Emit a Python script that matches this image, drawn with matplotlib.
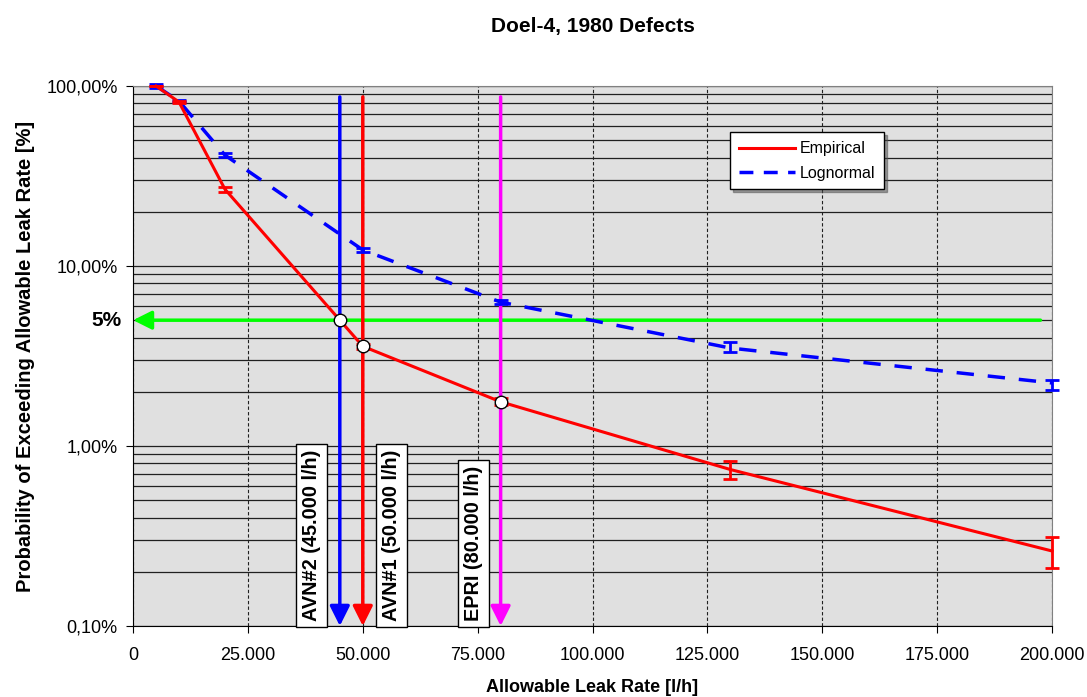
import numpy as np
import matplotlib.pyplot as plt
from matplotlib.lines import Line2D
from matplotlib.ticker import FixedLocator, FuncFormatter, LogLocator
from matplotlib.transforms import blended_transform_factory

plt.rcParams['font.family'] = ['Liberation Sans', 'DejaVu Sans']

# data
leak = [5000, 10000, 20000, 50000, 80000, 130000, 200000]
empirical = [1.0, 0.815, 0.267, 0.0358, 0.0176, 0.0074, 0.00261]
emp_lo = [0.0, 0.01, 0.008, 0.0012, 0.0008, 0.00084, 0.00051]
emp_hi = [0.0, 0.01, 0.008, 0.0012, 0.0008, 0.00086, 0.00051]
lognormal = [1.0, 0.825, 0.413, 0.1228, 0.063, 0.035, 0.0224]
logn_lo = [0.02, 0.015, 0.01, 0.003, 0.0015, 0.0017, 0.0019]
logn_hi = [0.02, 0.015, 0.01, 0.003, 0.0015, 0.0028, 0.0009]

limits = [45000, 50000, 80000]
limit_names = ['AVN#2 (45.000 l/h)', 'AVN#1 (50.000 l/h)', 'EPRI (80.000 l/h)']
limit_colors = ['#0000ff', '#ff0000', '#ff00ff']
limit_label_x = [38850, 56250, 74100]
crossing = [0.05, 0.0358, 0.0176]
target = 0.05

fig = plt.figure(figsize=(10.87, 6.97), dpi=100)
ax = fig.add_axes([0.1224, 0.1019, 0.8454, 0.7747])
ax.set_facecolor('#e0e0e0')
ax.set_yscale('log')
ax.set_xlim(0, 200000)
ax.set_ylim(0.001, 1.0)

# grid
ax.yaxis.set_major_locator(FixedLocator([0.001, 0.01, 0.1, 1.0]))
ax.yaxis.set_minor_locator(LogLocator(base=10, subs=np.arange(2, 10)))
ax.yaxis.set_major_formatter(FuncFormatter(lambda v, p: ('%.2f%%' % (v * 100)).replace('.', ',')))
ax.yaxis.set_minor_formatter(FuncFormatter(lambda v, p: ''))
ax.grid(True, axis='y', which='both', color='#202020', linewidth=0.9)
ax.set_xticks(np.arange(0, 200001, 25000))
ax.xaxis.set_major_formatter(FuncFormatter(lambda v, p: '0' if v == 0 else f'{int(v):,}'.replace(',', '.')))
ax.grid(True, axis='x', which='major', color='#202020', linewidth=0.8, linestyle=(0, (3, 2)))
ax.set_axisbelow(True)
ax.tick_params(axis='y', which='minor', length=0)
ax.tick_params(axis='both', which='major', labelsize=13, direction='out', length=5, color='black')
ax.tick_params(axis='x', pad=10)
ax.tick_params(axis='y', pad=6)

for s in ['top', 'right']:
    ax.spines[s].set_color('#808080')
for s in ['left', 'bottom']:
    ax.spines[s].set_color('black')

# green 5% arrow
ax.annotate('', xy=(0, target), xytext=(197500, target),
            arrowprops=dict(arrowstyle='-|>', color='#00ff00', lw=2.5, mutation_scale=28,
                            shrinkA=0, shrinkB=0), zorder=3)

# vertical limit arrows
for lx, col in zip(limits, limit_colors):
    ax.annotate('', xy=(lx, 0.001), xytext=(lx, 0.87),
                arrowprops=dict(arrowstyle='-|>', color=col, lw=2.5, mutation_scale=30,
                                shrinkA=0, shrinkB=0), zorder=4)

# series
ax.errorbar(leak, lognormal, yerr=[logn_lo, logn_hi], color='#0000ff', lw=2.5,
            linestyle=(0, (5, 4)), capsize=5, elinewidth=2, capthick=2, zorder=5, clip_on=False)
ax.errorbar(leak, empirical, yerr=[emp_lo, emp_hi], color='#ff0000', lw=2.2,
            capsize=5, elinewidth=2, capthick=2, zorder=6, clip_on=False)

ax.plot(limits, crossing, linestyle='none', marker='o', markersize=9,
        markerfacecolor='white', markeredgecolor='black', markeredgewidth=1, zorder=7)

# rotated labels
for lxl, name in zip(limit_label_x, limit_names):
    ax.text(lxl, 0.00106, name, rotation=90, ha='center', va='bottom', fontsize=14.3,
            fontweight='bold', zorder=8,
            bbox=dict(boxstyle='square,pad=0.3', facecolor='white', edgecolor='black', lw=1))

trans = blended_transform_factory(ax.transAxes, ax.transData)
ax.text(-0.012, target, '5%', transform=trans, ha='right', va='center',
        fontsize=15, fontweight='bold')

handles = [Line2D([], [], color='#ff0000', lw=2.2),
           Line2D([], [], color='#0000ff', lw=2.5, linestyle=(0, (4, 3)))]
leg = ax.legend(handles, ['Empirical', 'Lognormal'], loc='upper left',
                bbox_to_anchor=(0.641, 0.929), fontsize=11.5, fancybox=False, shadow=True,
                edgecolor='black', framealpha=1, handlelength=3.5, handletextpad=0.3,
                borderpad=0.55, labelspacing=0.6)
leg.get_frame().set_linewidth(1)

ax.set_title('Doel-4, 1980 Defects', fontsize=15, fontweight='bold', pad=39)
ax.set_xlabel('Allowable Leak Rate [l/h]', fontsize=13, fontweight='bold', labelpad=11)
ax.set_ylabel('Probability of Exceeding Allowable Leak Rate [%]', fontsize=14.5,
              fontweight='bold', labelpad=8)

plt.savefig('out.png', dpi=100)
